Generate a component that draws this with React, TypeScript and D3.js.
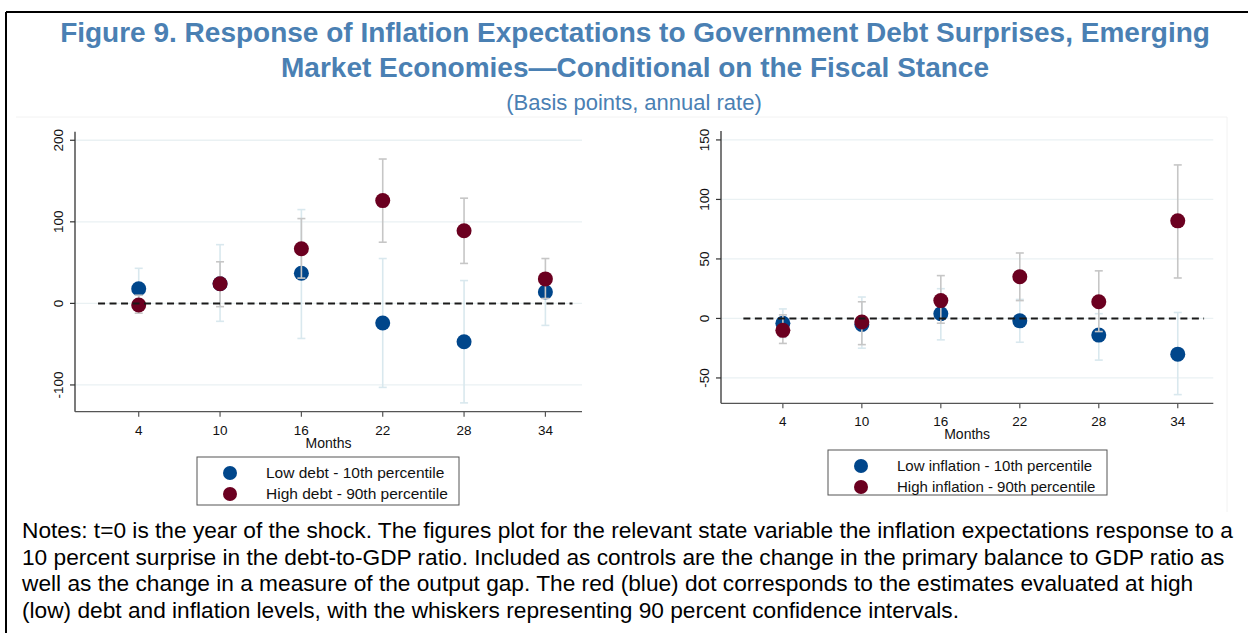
import React from "react";
import * as d3 from "d3";

const months = [4, 10, 16, 22, 28, 34];

// Left panel: debt
const lowDebt = [18, 24, 37, -24, -47, 14];
const lowDebtLo = [-6, -22, -43, -103, -122, -27];
const lowDebtHi = [43, 72, 115, 55, 28, 36];
const highDebt = [-2, 24, 67, 126, 89, 30];
const highDebtLo = [-12, -4, 31, 75, 49, 6];
const highDebtHi = [10, 51, 104, 177, 129, 55];

// Right panel: inflation
const lowInfl = [-4, -5, 4, -2, -14, -30];
const lowInflLo = [-16, -25, -18, -20, -35, -64];
const lowInflHi = [8, 18, 25, 16, 4, 5];
const highInfl = [-10, -3, 15, 35, 14, 82];
const highInflLo = [-21, -22, -4, 15, -11, 34];
const highInflHi = [3, 14, 36, 55, 40, 129];

const leftTicks = [-100, 0, 100, 200];
const rightTicks = [-50, 0, 50, 100, 150];

const BLUE = "#00468b";
const RED = "#6b0020";
const BLUE_CI = "#d9e8ee";
const RED_CI = "#c6c6c6";
const GRID = "#eaf1f3";
const TITLE = "#4a80b3";
const FONT = "'Liberation Sans', Arial, sans-serif";

type PanelProps = {
  x0: number; x1: number; y0: number; y1: number;
  yDomain: [number, number];
  ticks: number[];
  low: number[]; lowLo: number[]; lowHi: number[];
  high: number[]; highLo: number[]; highHi: number[];
  tickLabelY: number; monthsY: number;
};

function Panel(p: PanelProps) {
  const x = d3.scaleLinear().domain([-0.7, 36.7]).range([p.x0, p.x1]);
  const y = d3.scaleLinear().domain(p.yDomain).range([p.y1, p.y0]);
  const cap = 4;
  const ci = (lo: number[], hi: number[], color: string, key: string) =>
    months.map((m, i) => (
      <g key={key + i} stroke={color} strokeWidth={1.6}>
        <line x1={x(m)} x2={x(m)} y1={y(lo[i])} y2={y(hi[i])} />
        <line x1={x(m) - cap} x2={x(m) + cap} y1={y(lo[i])} y2={y(lo[i])} />
        <line x1={x(m) - cap} x2={x(m) + cap} y1={y(hi[i])} y2={y(hi[i])} />
      </g>
    ));
  const pts = (v: number[], color: string, key: string) =>
    months.map((m, i) => <circle key={key + i} cx={x(m)} cy={y(v[i])} r={7.5} fill={color} />);
  return (
    <g fontFamily={FONT}>
      {p.ticks.map((t) => (
        <line key={"g" + t} x1={p.x0} x2={p.x1} y1={y(t)} y2={y(t)} stroke={GRID} strokeWidth={1.3} />
      ))}
      {ci(p.lowLo, p.lowHi, BLUE_CI, "bc")}
      {pts(p.low, BLUE, "bp")}
      {ci(p.highLo, p.highHi, RED_CI, "rc")}
      {pts(p.high, RED, "rp")}
      <line x1={x(1)} x2={x(36)} y1={y(0)} y2={y(0)} stroke="#1a1a1a" strokeWidth={2} strokeDasharray="7,4.5" />
      <line x1={p.x0} x2={p.x0} y1={p.y0} y2={p.y1} stroke="#333" strokeWidth={1.3} />
      <line x1={p.x0} x2={p.x1} y1={p.y1} y2={p.y1} stroke="#555" strokeWidth={1.3} />
      {p.ticks.map((t) => (
        <g key={"t" + t}>
          <line x1={p.x0 - 5} x2={p.x0} y1={y(t)} y2={y(t)} stroke="#333" strokeWidth={1.2} />
          <text
            transform={`translate(${p.x0 - 12},${y(t)}) rotate(-90)`}
            textAnchor="middle"
            fontSize={13.5}
            fill="#111"
          >
            {t}
          </text>
        </g>
      ))}
      {months.map((m) => (
        <g key={"x" + m}>
          <line x1={x(m)} x2={x(m)} y1={p.y1} y2={p.y1 + 5} stroke="#555" strokeWidth={1.2} />
          <text x={x(m)} y={p.tickLabelY} textAnchor="middle" fontSize={13.5} fill="#111">
            {m}
          </text>
        </g>
      ))}
      <text x={(p.x0 + p.x1) / 2} y={p.monthsY} textAnchor="middle" fontSize={14} fill="#111">
        Months
      </text>
    </g>
  );
}

function Legend({ x0, y0, w, h, fs, labels }: { x0: number; y0: number; w: number; h: number; fs: number; labels: string[] }) {
  return (
    <g fontFamily={FONT}>
      <rect x={x0} y={y0} width={w} height={h} fill="white" stroke="#555" strokeWidth={1} />
      <circle cx={x0 + 33} cy={y0 + 16} r={7} fill={BLUE} />
      <circle cx={x0 + 33} cy={y0 + 37} r={7} fill={RED} />
      <text x={x0 + 69} y={y0 + 21} fontSize={fs} fill="#111">{labels[0]}</text>
      <text x={x0 + 69} y={y0 + 42} fontSize={fs} fill="#111">{labels[1]}</text>
    </g>
  );
}

const notes = [
  "Notes: t=0 is the year of the shock. The figures plot for the relevant state variable the inflation expectations response to a",
  "10 percent surprise in the debt-to-GDP ratio. Included as controls are the change in the primary balance to GDP ratio as",
  "well as the change in a measure of the output gap. The red (blue) dot corresponds to the estimates evaluated at high",
  "(low) debt and inflation levels, with the whiskers representing 90 percent confidence intervals.",
];

export default function App() {
  return (
    <svg
      width={1248}
      height={633}
      style={{ position: "absolute", left: 0, top: 0, background: "white" }}
      fontFamily={FONT}
    >
      <rect x={0} y={0} width={1248} height={633} fill="white" />
      <line x1={6} x2={1248} y1={12} y2={12} stroke="#000" strokeWidth={2} />
      <line x1={6} x2={6} y1={12} y2={633} stroke="#000" strokeWidth={2} />
      <line x1={16} x2={1227} y1={117} y2={117} stroke="#f2f2f2" strokeWidth={1} />
      <line x1={1227} x2={1227} y1={117} y2={512} stroke="#f2f2f2" strokeWidth={1} />
      <text x={635} y={42} textAnchor="middle" fontSize={28} fontWeight="bold" fill={TITLE}>
        Figure 9. Response of Inflation Expectations to Government Debt Surprises, Emerging
      </text>
      <text x={635} y={77} textAnchor="middle" fontSize={28} fontWeight="bold" fill={TITLE}>
        Market Economies—Conditional on the Fiscal Stance
      </text>
      <text x={634} y={110} textAnchor="middle" fontSize={22} fill={TITLE}>
        (Basis points, annual rate)
      </text>
      <Panel
        x0={75} x1={582} y0={131.7} y1={411.7}
        yDomain={[-132.8, 210.5]}
        ticks={leftTicks}
        low={lowDebt} lowLo={lowDebtLo} lowHi={lowDebtHi}
        high={highDebt} highLo={highDebtLo} highHi={highDebtHi}
        tickLabelY={435} monthsY={448}
      />
      <Panel
        x0={721} x1={1213.3} y0={131} y1={403.3}
        yDomain={[-71.3, 157.5]}
        ticks={rightTicks}
        low={lowInfl} lowLo={lowInflLo} lowHi={lowInflHi}
        high={highInfl} highLo={highInflLo} highHi={highInflHi}
        tickLabelY={426} monthsY={439}
      />
      <Legend x0={197} y0={457} w={262} h={48} fs={15.5} labels={["Low debt - 10th percentile", "High debt - 90th percentile"]} />
      <Legend x0={828} y0={450} w={279} h={45} fs={15} labels={["Low inflation - 10th percentile", "High inflation - 90th percentile"]} />
      {notes.map((n, i) => (
        <text key={i} x={22} y={538 + i * 26.5} fontSize={22.7} fill="#000">
          {n}
        </text>
      ))}
    </svg>
  );
}
